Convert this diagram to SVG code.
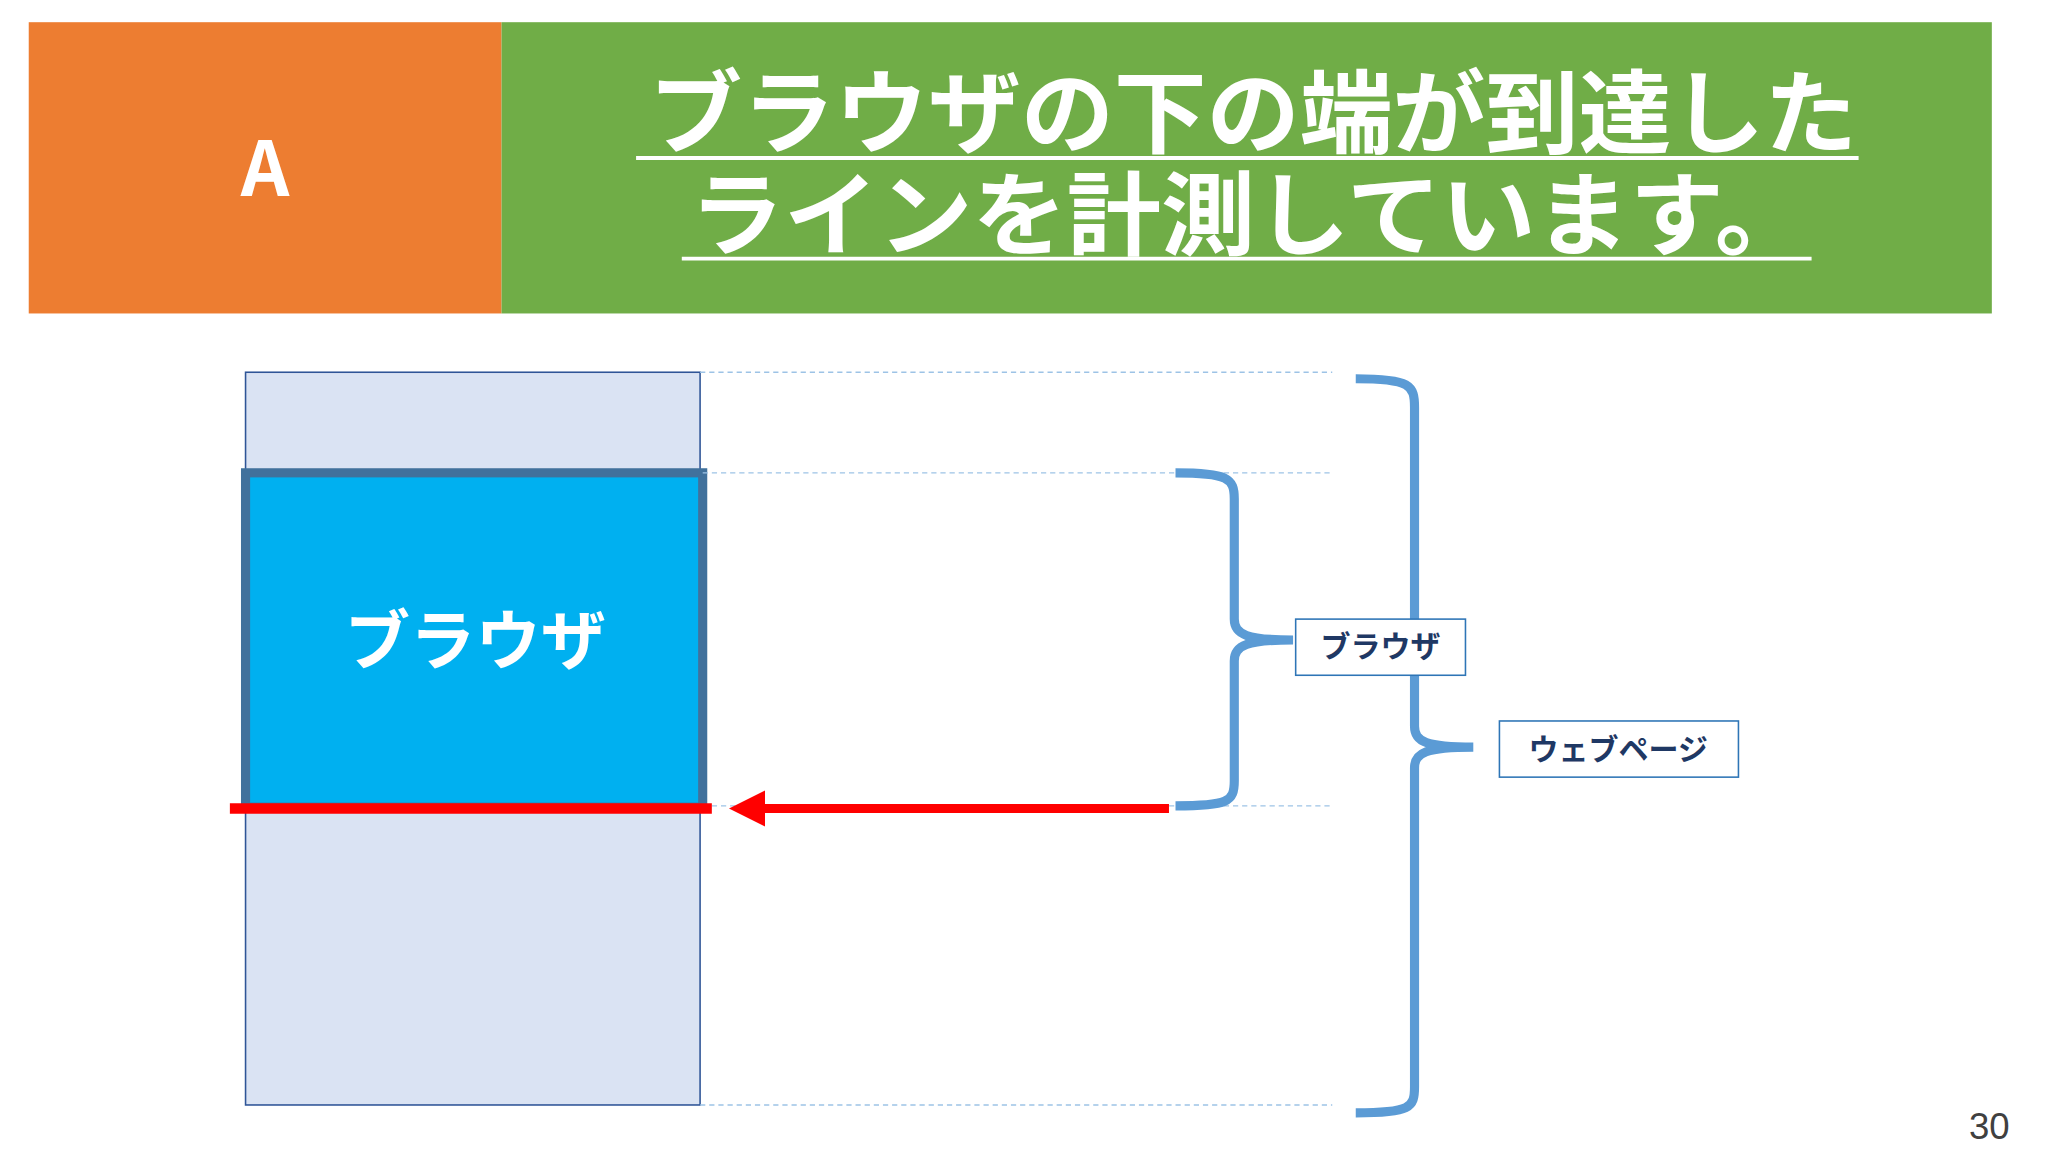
<svg xmlns="http://www.w3.org/2000/svg" width="2048" height="1152" viewBox="0 0 2048 1152">
<style>
.jp{font-family:"Noto Sans CJK JP","Liberation Sans",sans-serif;font-weight:bold}
.dash{stroke:#9dc3e6;stroke-width:1;stroke-dasharray:4 3}
.brace{fill:none;stroke:#5b9bd5;stroke-width:7}
.lbl{fill:#fff;stroke:#2e75b6;stroke-width:1.2}
</style>
<defs>
<marker id="ah" markerWidth="4" markerHeight="4" refX="3" refY="2" orient="auto" markerUnits="strokeWidth"><path d="M0,0 L4,2 L0,4 Z" fill="#ff0000"/></marker>
</defs>
<rect width="2048" height="1152" fill="#fff"/>
<g transform="scale(1.30612)">
<g id="header">
<rect x="22" y="17" width="362" height="223" fill="#ed7d31"/>
<text x="203" y="150" text-anchor="middle" class="jp" font-size="58" fill="#fff">A</text>
<rect x="384" y="17" width="1141" height="223" fill="#70ad47"/>
<text x="497" y="112" textLength="925" lengthAdjust="spacingAndGlyphs" class="jp" font-size="70" fill="#fff">ブラウザの下の端が到達した</text>
<text x="528" y="190" textLength="857" lengthAdjust="spacingAndGlyphs" class="jp" font-size="70" fill="#fff">ラインを計測しています。</text>
<line x1="487" y1="121" x2="1423" y2="121" stroke="#fff" stroke-width="3"/>
<line x1="522" y1="198" x2="1387" y2="198" stroke="#fff" stroke-width="3"/>
</g>
<g id="page"><rect x="188" y="285" width="348" height="561" fill="#dae3f3" stroke="#2f5597" stroke-width="1.2"/></g>
<g id="browser">
<rect x="188" y="362" width="350" height="256" fill="#00b0f0" stroke="#41719c" stroke-width="7"/>
<text x="364" y="508" text-anchor="middle" class="jp" font-size="50" fill="#fff">ブラウザ</text>
</g>
<g id="connectors">
<line class="dash" x1="536" y1="285" x2="1020" y2="285"/>
<line class="dash" x1="538" y1="362" x2="1020" y2="362"/>
<line class="dash" x1="538" y1="617" x2="1020" y2="617"/>
<line class="dash" x1="536" y1="846" x2="1020" y2="846"/>
<line x1="176" y1="619" x2="545" y2="619" stroke="#ff0000" stroke-width="8"/>
<line x1="895" y1="619" x2="565" y2="619" stroke="#ff0000" stroke-width="7" marker-end="url(#ah)"/>
<path class="brace" d="M900,362 C940,362 945,366 945,382 L945,474 C945,486 955,490 990,490 C955,490 945,494 945,506 L945,598 C945,614 940,617 900,617"/>
<path class="brace" d="M1038,290 C1080,290 1083,295 1083,312 L1083,556 C1083,568 1092,572 1128,572 C1092,572 1083,576 1083,588 L1083,832 C1083,848 1080,852 1038,852"/>
</g>
<g id="label-browser">
<rect class="lbl" x="992" y="474" width="130" height="43"/>
<text x="1057" y="503" text-anchor="middle" class="jp" font-size="23" fill="#1f3864">ブラウザ</text>
</g>
<g id="label-webpage">
<rect class="lbl" x="1148" y="552" width="183" height="43"/>
<text x="1239" y="582" text-anchor="middle" class="jp" font-size="23" fill="#1f3864">ウェブページ</text>
</g>
<text x="1523" y="872" text-anchor="middle" font-family="Liberation Sans,sans-serif" font-size="28" fill="#404040">30</text>
</g>
</svg>
